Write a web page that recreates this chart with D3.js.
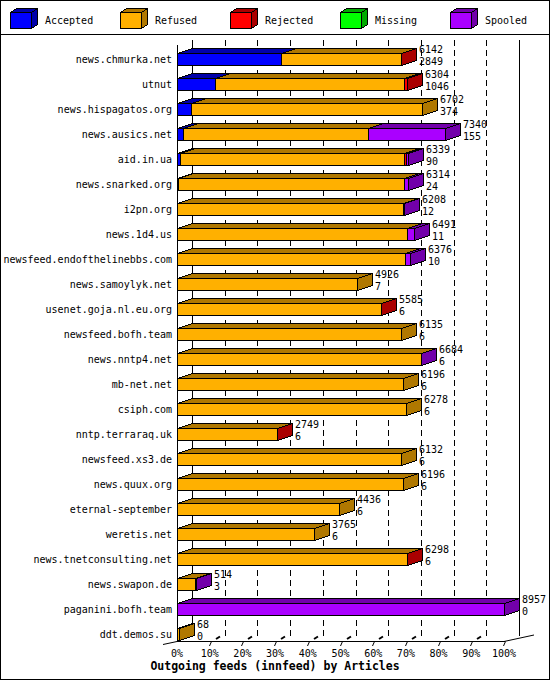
<!DOCTYPE html>
<html>
<head>
<meta charset="utf-8">
<script src="https://cdn.jsdelivr.net/npm/d3@7"></script>
<style>
    body { margin: 0; background: #fff; }
    svg { display: block; font-family: "DejaVu Sans Mono", monospace; }
</style>
</head>
<body>
<div id="chart"></div>
<script>
// feeds, top to bottom
const feeds = [
    "news.chmurka.net", "utnut", "news.hispagatos.org", "news.ausics.net",
    "aid.in.ua", "news.snarked.org", "i2pn.org", "news.1d4.us",
    "newsfeed.endofthelinebbs.com", "news.samoylyk.net", "usenet.goja.nl.eu.org",
    "newsfeed.bofh.team", "news.nntp4.net", "mb-net.net", "csiph.com",
    "nntp.terraraq.uk", "newsfeed.xs3.de", "news.quux.org", "eternal-september",
    "weretis.net", "news.tnetconsulting.net", "news.swapon.de",
    "paganini.bofh.team", "ddt.demos.su"
];
const totals   = [6142, 6304, 6702, 7340, 6339, 6314, 6208, 6491, 6376, 4926, 5585, 6135, 6684, 6196, 6278, 2749, 6132, 6196, 4436, 3765, 6298, 514, 8957, 68];
const accepted = [2849, 1046, 374, 155, 90, 24, 12, 11, 10, 7, 6, 6, 6, 6, 6, 6, 6, 6, 6, 6, 6, 3, 0, 0];
const refused  = [3278, 5168, 6328, 5076, 6119, 6190, 6186, 6300, 6236, 4919, 5569, 6129, 6668, 6190, 6272, 2733, 6126, 6190, 4430, 3759, 6282, 501, 0, 68];
const rejected = [15, 90, 0, 0, 70, 0, 0, 0, 0, 0, 10, 0, 0, 0, 0, 10, 0, 0, 0, 0, 10, 0, 0, 0];
const missing  = [0, 0, 0, 0, 0, 0, 0, 0, 0, 0, 0, 0, 0, 0, 0, 0, 0, 0, 0, 0, 0, 0, 0, 0];
const spooled  = [0, 0, 0, 2109, 60, 100, 10, 180, 130, 0, 0, 0, 10, 0, 0, 0, 0, 0, 0, 0, 0, 10, 8957, 0];

const series = ["Accepted", "Refused", "Rejected", "Missing", "Spooled"];
const pctTicks = [0, 10, 20, 30, 40, 50, 60, 70, 80, 90, 100];
const axisTitle = "Outgoing feeds (innfeed) by Articles";

const frontColors = ["#0000ff", "#ffb000", "#ff0000", "#00ff00", "#aa00ff"];
const darkColors  = ["#0000aa", "#b07800", "#aa0000", "#00aa00", "#7200aa"];

function drawChart() {
    const width = 550;
    const height = 680;
    const depthX = 15;
    const depthY = 5;
    const floorY = 641;
    const topY = 40;

    const svg = d3.select("#chart")
        .append("svg")
        .attr("width", width)
        .attr("height", height)
        .attr("shape-rendering", "crispEdges");

    svg.append("rect")
        .attr("x", 0.5).attr("y", 0.5)
        .attr("width", width - 1).attr("height", height - 1)
        .attr("fill", "#fff").attr("stroke", "#000");

    // legend
    const gLegend = svg.selectAll(".legend-item")
        .data(series)
        .join("g")
            .attr("class", "legend-item")
            .attr("transform", (d, i) => `translate(${10 + 110 * i}, 0)`);

    gLegend.append("polygon")
        .attr("points", "0.5,12.5 6.5,8.5 27.5,8.5 21.5,12.5")
        .attr("fill", (d, i) => darkColors[i]).attr("stroke", "#000");
    gLegend.append("polygon")
        .attr("points", "21.5,12.5 27.5,8.5 27.5,24.5 21.5,28.5")
        .attr("fill", (d, i) => darkColors[i]).attr("stroke", "#000");
    gLegend.append("rect")
        .attr("x", 0.5).attr("y", 12.5).attr("width", 21).attr("height", 16)
        .attr("fill", (d, i) => frontColors[i]).attr("stroke", "#000");
    gLegend.append("text")
        .attr("x", 35).attr("y", 24)
        .style("font-size", "10px")
        .text(d => d);

    svg.append("line")
        .attr("x1", 0).attr("x2", width)
        .attr("y1", 34.5).attr("y2", 34.5)
        .attr("stroke", "#000");

    // scales
    const xScale = d3.scaleLinear()
        .domain([0, d3.max(totals)])
        .range([177, 504]);

    const xPct = d3.scaleLinear()
        .domain([0, 100])
        .range([177, 504]);

    const yScale = d3.scaleBand()
        .domain(feeds)
        .range([46.5, 646.5]);

    const px = v => Math.round(v) + 0.5;

    // back grid
    svg.selectAll(".grid")
        .data(pctTicks.slice(1, -1))
        .join("line")
            .attr("class", "grid")
            .attr("x1", d => px(xPct(d) + depthX)).attr("x2", d => px(xPct(d) + depthX))
            .attr("y1", topY).attr("y2", floorY - depthY)
            .attr("stroke", "#000")
            .attr("stroke-dasharray", "6,4");

    [0, 100].forEach(d => {
        svg.append("line")
            .attr("x1", px(xPct(d) + depthX)).attr("x2", px(xPct(d) + depthX))
            .attr("y1", topY).attr("y2", floorY - depthY)
            .attr("stroke", "#000");
    });

    // floor edges and front axis
    svg.append("line")
        .attr("x1", px(xPct(0))).attr("x2", px(xPct(0)))
        .attr("y1", 45).attr("y2", floorY + 0.5)
        .attr("stroke", "#000");
    svg.append("line")
        .attr("x1", xPct(0)).attr("x2", xPct(100) + 1)
        .attr("y1", floorY + 0.5).attr("y2", floorY + 0.5)
        .attr("stroke", "#000");
    svg.append("line")
        .attr("shape-rendering", "auto")
        .attr("x1", xPct(0) - 14).attr("y1", floorY + 3.5)
        .attr("x2", xPct(0)).attr("y2", floorY + 0.5)
        .attr("stroke", "#000");
    svg.append("line")
        .attr("shape-rendering", "auto")
        .attr("x1", xPct(100)).attr("y1", floorY + 0.5)
        .attr("x2", xPct(100) + 30).attr("y2", floorY - 6)
        .attr("stroke", "#000");

    // tick marks on the floor
    const gTicks = svg.selectAll(".tick")
        .data(pctTicks.slice(1))
        .join("g")
            .attr("class", "tick")
            .attr("transform", d => `translate(${Math.round(xPct(d))}, 0)`);

    gTicks.append("line")
        .attr("shape-rendering", "auto")
        .attr("x1", -0.5).attr("y1", floorY + 5)
        .attr("x2", 1.5).attr("y2", floorY + 0.5)
        .attr("stroke", "#000");

    gTicks.filter(d => d < 100)
        .append("line")
            .attr("shape-rendering", "auto")
            .attr("x1", 6).attr("y1", floorY - 2)
            .attr("x2", 10).attr("y2", floorY - 4.5)
            .attr("stroke", "#000")
            .attr("stroke-width", 2);

    svg.selectAll(".tick-label")
        .data(pctTicks)
        .join("text")
            .attr("class", "tick-label")
            .attr("text-anchor", "middle")
            .attr("x", d => xPct(d))
            .attr("y", 657)
            .style("font-size", "10px")
            .text(d => `${d}%`);

    // bars
    const rows = feeds.map((name, i) => {
        const vals = [accepted[i], refused[i], rejected[i], missing[i], spooled[i]];
        let start = 0;
        const segs = [];
        vals.forEach((v, k) => {
            if (v > 0) {
                segs.push({ k: k, x0: start, x1: start + v });
                start += v;
            }
        });
        return { name: name, total: totals[i], accepted: accepted[i], segs: segs };
    });

    const gBars = svg.selectAll(".bar")
        .data(rows)
        .join("g")
            .attr("class", "bar")
            .attr("transform", d => `translate(0, ${yScale(d.name) + yScale.bandwidth() / 2})`);

    gBars.append("text")
        .attr("class", "feed-name")
        .attr("text-anchor", "end")
        .attr("x", 172)
        .attr("y", 4)
        .style("font-size", "10px")
        .text(d => d.name);

    const segTop = -5.5;
    const segBottom = 6.5;

    gBars.selectAll(".seg-top")
        .data(d => d.segs)
        .join("polygon")
            .attr("class", "seg-top")
            .attr("points", d => {
                const a = px(xScale(d.x0)), b = px(xScale(d.x1));
                return `${a},${segTop} ${a + depthX},${segTop - depthY} ${b + depthX},${segTop - depthY} ${b},${segTop}`;
            })
            .attr("fill", d => darkColors[d.k])
            .attr("stroke", "#000");

    gBars.selectAll(".seg-front")
        .data(d => d.segs)
        .join("rect")
            .attr("class", "seg-front")
            .attr("x", d => px(xScale(d.x0)))
            .attr("y", segTop)
            .attr("width", d => Math.max(0, px(xScale(d.x1)) - px(xScale(d.x0))))
            .attr("height", segBottom - segTop)
            .attr("fill", d => frontColors[d.k])
            .attr("stroke", "#000");

    gBars.append("polygon")
        .attr("class", "bar-side")
        .attr("points", d => {
            const b = px(xScale(d.total));
            return `${b},${segTop} ${b + depthX},${segTop - depthY} ${b + depthX},${segBottom - depthY} ${b},${segBottom}`;
        })
        .attr("fill", d => darkColors[d.segs[d.segs.length - 1].k])
        .attr("stroke", "#000");

    const valueText = gBars.append("text")
        .attr("class", "bar-value")
        .style("font-size", "10px")
        .attr("x", d => Math.round(xScale(d.total)) + 18)
        .attr("y", -6);

    valueText.selectAll("tspan")
        .data(d => [d.total, d.accepted])
        .join("tspan")
            .attr("x", function () { return this.parentNode.getAttribute("x"); })
            .attr("dy", (_, i) => i === 0 ? 0 : 12)
            .text(d => d);

    svg.append("text")
        .attr("text-anchor", "middle")
        .attr("x", width / 2)
        .attr("y", 670)
        .style("font-size", "11.5px")
        .style("font-weight", 700)
        .text(axisTitle);
}

drawChart();
</script>
</body>
</html>
